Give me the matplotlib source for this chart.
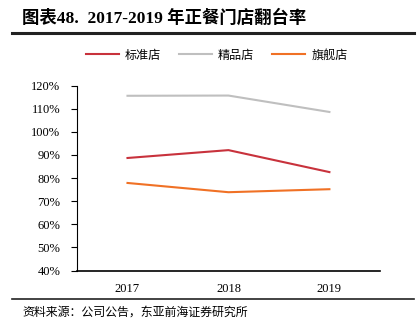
import numpy as np
import matplotlib.pyplot as plt
from matplotlib.ticker import PercentFormatter
from matplotlib.lines import Line2D

plt.rcParams['font.family'] = ['Liberation Serif', 'Noto Sans CJK SC']

years = ['2017', '2018', '2019']
standard = [88.7, 92.1, 82.6]
boutique = [115.6, 115.7, 108.6]
flagship = [77.9, 73.9, 75.2]
series_names = ['标准店', '精品店', '旗舰店']
colors = ['#C8323C', '#BFBFBF', '#F07125']

fig = plt.figure(figsize=(4.17, 3.28), dpi=100)
ax = fig.add_axes([0.1847, 0.175, 0.7263, 0.564])

x = np.arange(len(years))
for vals, name, c in zip([standard, boutique, flagship], series_names, colors):
    ax.plot(x, vals, color=c, lw=1.5, label=name)

ax.set_xlim(-0.5, 2.5)
ax.set_ylim(40, 120)
ax.set_yticks(np.arange(40, 121, 10))
ax.yaxis.set_major_formatter(PercentFormatter(decimals=0))
ax.set_xticks(x)
ax.set_xticklabels(years)
ax.tick_params(axis='y', labelsize=9, length=4, width=0.8, pad=8)
ax.tick_params(axis='x', labelsize=9, length=0, pad=9)
for s in ['top', 'right']:
    ax.spines[s].set_visible(False)
ax.spines['left'].set_linewidth(0.8)
ax.spines['bottom'].set_linewidth(1.2)

handles = [Line2D([], [], color=c, lw=1.5) for c in colors]
fig.legend(handles, series_names, loc='center', bbox_to_anchor=(0.52, 0.832),
           ncol=3, frameon=False, handlelength=2.7, columnspacing=1.5,
           handletextpad=0.5, prop={'family': 'Noto Sans CJK SC', 'size': 8.7})

fig.text(0.053, 0.945, '图表48.  2017-2019 年正餐门店翻台率', fontsize=12.5,
         fontweight='bold', va='center', ha='left')
fig.add_artist(Line2D([0.029, 0.993], [0.899, 0.899], color='#222222', lw=2.2))
fig.add_artist(Line2D([0.029, 0.993], [0.088, 0.088], color='#222222', lw=1.2))
fig.text(0.053, 0.048, '资料来源：公司公告，东亚前海证券研究所', fontsize=8.6,
         family='Noto Sans CJK SC', va='center', ha='left')

fig.savefig('out.png', dpi=100)
